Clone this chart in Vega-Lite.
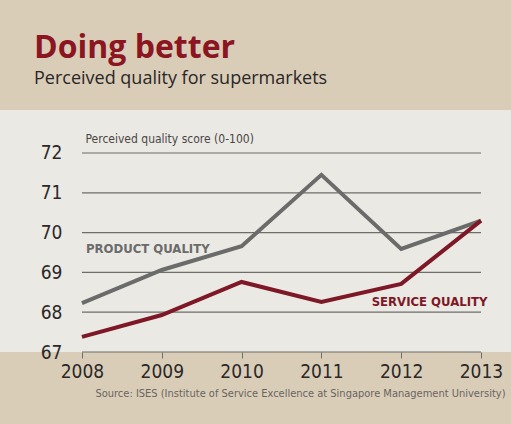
{
  "$schema": "https://vega.github.io/schema/vega-lite/v6.json",
  "width": 511,
  "height": 242,
  "autosize": {"type": "none"},
  "padding": {"top": 110, "left": 0, "right": 0, "bottom": 72},
  "background": "#d9cdb8",
  "config": {
    "view": {"fill": "#ebe9e4", "stroke": null},
    "font": "DejaVu Sans Condensed, Roboto, sans-serif"
  },
  "title": {
    "text": "Doing better",
    "subtitle": "Perceived quality for supermarkets",
    "anchor": "start",
    "frame": "group",
    "dx": 34,
    "offset": 21,
    "font": "Open Sans",
    "fontSize": 32,
    "fontWeight": "bold",
    "color": "#8b1622",
    "subtitleFont": "Open Sans",
    "subtitleFontSize": 18,
    "subtitleColor": "#2a2626",
    "subtitlePadding": 5
  },
  "datasets": {
    "series": [
      {"year": 2008, "score": 68.23, "series": "Product quality"},
      {"year": 2009, "score": 69.06, "series": "Product quality"},
      {"year": 2010, "score": 69.66, "series": "Product quality"},
      {"year": 2011, "score": 71.45, "series": "Product quality"},
      {"year": 2012, "score": 69.59, "series": "Product quality"},
      {"year": 2013, "score": 70.3, "series": "Product quality"},
      {"year": 2008, "score": 67.38, "series": "Service quality"},
      {"year": 2009, "score": 67.93, "series": "Service quality"},
      {"year": 2010, "score": 68.76, "series": "Service quality"},
      {"year": 2011, "score": 68.26, "series": "Service quality"},
      {"year": 2012, "score": 68.71, "series": "Service quality"},
      {"year": 2013, "score": 70.3, "series": "Service quality"}
    ],
    "grid": [
      {"start": 2008, "end": 2013, "g": 67},
      {"start": 2008, "end": 2013, "g": 68},
      {"start": 2008, "end": 2013, "g": 69},
      {"start": 2008, "end": 2013, "g": 70},
      {"start": 2008, "end": 2013, "g": 71},
      {"start": 2008, "end": 2013, "g": 72}
    ],
    "labels": [
      {"year": 2008.05, "score": 69.6, "text": "PRODUCT QUALITY", "series": "Product quality"},
      {"year": 2011.63, "score": 68.25, "text": "SERVICE QUALITY", "series": "Service quality"}
    ]
  },
  "encoding": {
    "x": {
      "type": "quantitative",
      "scale": {"domain": [2006.973, 2013.376], "nice": false, "zero": false}
    },
    "y": {
      "type": "quantitative",
      "scale": {"domain": [67, 73.08], "nice": false, "zero": false}
    }
  },
  "layer": [
    {
      "data": {"name": "grid"},
      "mark": {"type": "rule", "color": "#6f6d6a", "strokeWidth": 1.2},
      "encoding": {
        "x": {"field": "start", "type": "quantitative",
          "axis": {
            "title": "Source: ISES (Institute of Service Excellence at Singapore Management University)",
            "titleFontSize": 11,
            "titleFontWeight": "normal",
            "titleColor": "#6a6460",
            "titleAnchor": "end",
            "titleAlign": "right",
            "titleX": 505,
            "titleY": 35,
            "values": [2008, 2009, 2010, 2011, 2012, 2013],
            "format": "d",
            "domain": false,
            "grid": false,
            "ticks": true,
            "tickColor": "#6f6d6a",
            "tickSize": 6,
            "labelFontSize": 19,
            "labelColor": "#2c2828",
            "labelPadding": 4,
            "labelFlush": false,
            "labelOverlap": false
          }
        },
        "x2": {"field": "end"},
        "y": {"field": "g", "type": "quantitative",
          "axis": {
            "title": "Perceived quality score (0-100)",
            "titleAngle": 0,
            "titleAlign": "left",
            "titleBaseline": "middle",
            "titleX": 23,
            "titleY": 28,
            "titleFontSize": 12,
            "titleFontWeight": "normal",
            "titleColor": "#4a4644",
            "offset": -62,
            "values": [67, 68, 69, 70, 71, 72],
            "domain": false,
            "ticks": false,
            "grid": false,
            "labelPadding": 0,
            "labelFontSize": 19,
            "labelColor": "#2c2828"
          }
        }
      }
    },
    {
      "data": {"name": "series"},
      "mark": {"type": "line", "strokeWidth": 4, "strokeJoin": "miter"},
      "encoding": {
        "x": {"field": "year", "type": "quantitative"},
        "y": {"field": "score", "type": "quantitative"},
        "color": {"field": "series", "type": "nominal",
          "scale": {"domain": ["Product quality", "Service quality"], "range": ["#6b6b6b", "#7e1826"]},
          "legend": null}
      }
    },
    {
      "data": {"name": "labels"},
      "mark": {"type": "text", "fontSize": 13, "fontWeight": "bold", "baseline": "middle", "align": "left"},
      "encoding": {
        "x": {"field": "year", "type": "quantitative"},
        "y": {"field": "score", "type": "quantitative"},
        "text": {"field": "text"},
        "color": {"field": "series", "type": "nominal",
          "scale": {"domain": ["Product quality", "Service quality"], "range": ["#757473", "#7e1826"]},
          "legend": null}
      }
    }
  ]
}
